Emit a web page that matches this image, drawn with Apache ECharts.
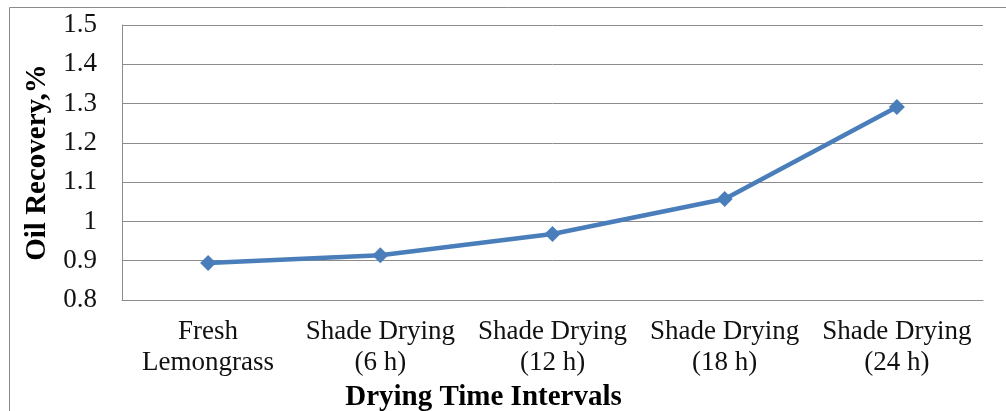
<!DOCTYPE html>
<html>
<head>
<meta charset="utf-8">
<script src="https://cdn.jsdelivr.net/npm/echarts@6/dist/echarts.min.js"></script>
<style>
  html, body { margin: 0; padding: 0; background: #fff; }
  #chart { width: 1006px; height: 411px; }
</style>
</head>
<body>
<div id="chart"></div>
<script>
// data
const categories = [
  'Fresh\nLemongrass',
  'Shade Drying\n(6 h)',
  'Shade Drying\n(12 h)',
  'Shade Drying\n(18 h)',
  'Shade Drying\n(24 h)'
]
const oilRecovery = [0.894, 0.914, 0.968, 1.057, 1.291]

const serif = 'Liberation Serif, Times New Roman, serif'
const gray = '#8c8c8c'

const chart = echarts.init(document.getElementById('chart'))

chart.setOption({
  animation: false,
  backgroundColor: '#fff',
  // outer chart border (runs off the right / bottom edge)
  graphic: [{
    type: 'rect',
    shape: { x: 9.5, y: 7.5, width: 1100, height: 500 },
    style: { fill: 'none', stroke: '#8a8a8a', lineWidth: 1 },
    silent: true,
    z: -1
  }],
  grid: {
    left: 122,
    right: 23,
    top: 25,
    bottom: 111,
    outerBoundsMode: 'none'
  },
  xAxis: {
    type: 'category',
    data: categories,
    boundaryGap: true,
    name: 'Drying Time Intervals',
    nameLocation: 'middle',
    nameGap: 81,
    nameTextStyle: {
      fontFamily: serif,
      fontWeight: 'bold',
      fontSize: 29,
      color: '#000',
      // title sits left of the plot centre in the original
      padding: [0, 138, 0, 0]
    },
    axisLine: { lineStyle: { color: gray, width: 1 } },
    axisTick: { show: false },
    axisLabel: {
      fontFamily: serif,
      fontSize: 27,
      color: '#111',
      lineHeight: 31,
      margin: 16,
      interval: 0
    },
    splitLine: { show: false }
  },
  yAxis: {
    type: 'value',
    min: 0.8,
    max: 1.5,
    interval: 0.1,
    name: 'Oil Recovery,%',
    nameLocation: 'middle',
    nameRotate: 90,
    nameGap: 70,
    nameTextStyle: {
      fontFamily: serif,
      fontWeight: 'bold',
      fontSize: 29,
      color: '#000'
    },
    axisLine: { show: true, lineStyle: { color: gray, width: 1 } },
    axisTick: { show: false },
    axisLabel: {
      fontFamily: serif,
      fontSize: 27,
      color: '#111',
      margin: 25,
      formatter: v => String(Math.round(v * 10) / 10)
    },
    splitLine: { lineStyle: { color: gray, width: 1 } }
  },
  series: [{
    type: 'line',
    data: oilRecovery,
    symbol: 'diamond',
    symbolSize: 16,
    showAllSymbol: true,
    lineStyle: { color: '#4a7ebb', width: 4.5 },
    itemStyle: { color: '#4a7ebb' }
  }]
})
</script>
</body>
</html>
